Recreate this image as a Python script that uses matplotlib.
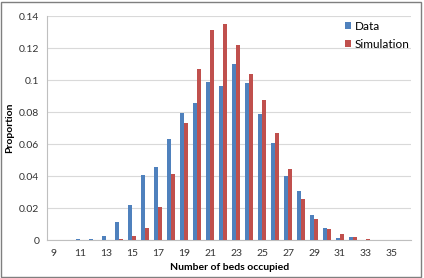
import matplotlib
matplotlib.use('Agg')
import matplotlib.pyplot as plt
from matplotlib.patches import Rectangle
import numpy as np

plt.rcParams['font.family'] = ['Lato', 'DejaVu Sans']

beds = list(range(9, 37))
data = [0.0005, 0.0, 0.001, 0.001, 0.0025, 0.0115, 0.0223, 0.0408, 0.046, 0.063,
        0.0797, 0.086, 0.099, 0.0966, 0.110, 0.098, 0.0787, 0.0606, 0.040, 0.031,
        0.0156, 0.0079, 0.0017, 0.0023, 0.0005, 0.0004, 0.0003, 0.0]
simulation = [0.0, 0.0, 0.0, 0.0, 0.0, 0.0006, 0.0027, 0.0077, 0.0206, 0.0414,
              0.073, 0.107, 0.131, 0.135, 0.122, 0.104, 0.0877, 0.067, 0.0444, 0.0256,
              0.013, 0.0069, 0.004, 0.0023, 0.001, 0.0003, 0.0003, 0.0]
tick_labels = [str(b) for b in range(9, 36, 2)]

blue = '#4F81BD'
red = '#C0504D'

fig = plt.figure(figsize=(4.24, 2.78), dpi=100)
ax = fig.add_axes([0.112, 0.1356, 0.8585, 0.8068])

x = np.arange(len(beds))
w = 0.31
ax.bar(x - w / 2, data, width=w, color=blue, label='Data', zorder=3)
ax.bar(x + w / 2, simulation, width=w, color=red, label='Simulation', zorder=3)

ax.set_xlim(-0.5, len(beds) - 0.5)
ax.set_ylim(0, 0.14)
ax.set_yticks(np.arange(0, 0.141, 0.02))
ax.set_yticklabels(['0', '0.02', '0.04', '0.06', '0.08', '0.1', '0.12', '0.14'])
ax.set_xticks(x[::2])
ax.set_xticklabels(tick_labels)
ax.tick_params(axis='both', length=0, labelsize=7.5, colors='#333333', pad=6)
ax.grid(axis='y', color='#d9d9d9', linewidth=0.8, zorder=0)

for s in ['top', 'right']:
    ax.spines[s].set_visible(False)
for s in ['left', 'bottom']:
    ax.spines[s].set_color('#bfbfbf')
    ax.spines[s].set_linewidth(0.8)

ax.set_xlabel('Number of beds occupied', fontsize=7.5, fontweight='bold', labelpad=4)
ax.set_ylabel('Proportion', fontsize=7.5, fontweight='bold', labelpad=3)

ax.legend(loc='upper left', bbox_to_anchor=(0.817, 0.978), frameon=False, fontsize=8.5,
          borderaxespad=0, borderpad=0, handlelength=0.55, handleheight=0.55,
          handletextpad=0.3, labelspacing=0.6)

fig.patches.append(Rectangle((0.002, 0.004), 0.991, 0.99, transform=fig.transFigure,
                             fill=False, edgecolor='#7f7f7f', linewidth=1))

fig.savefig('out.png', dpi=100)
